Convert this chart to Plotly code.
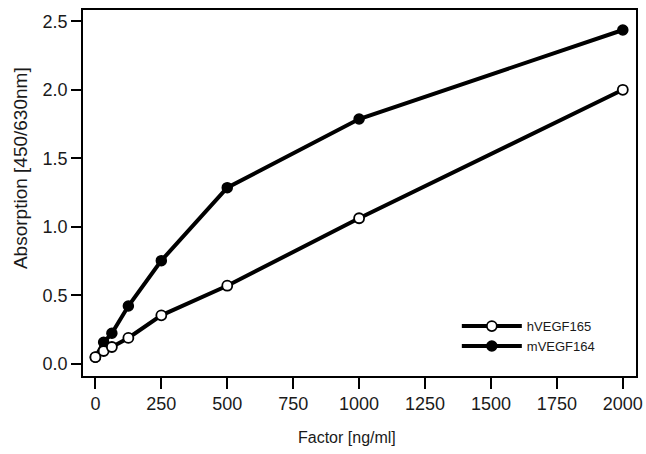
import plotly.graph_objects as go

conc = [0, 31.25, 62.5, 125, 250, 500, 1000, 2000]
hvegf165 = [0.05, 0.095, 0.124, 0.19, 0.355, 0.571, 1.063, 2.00]
mvegf164 = [0.05, 0.158, 0.224, 0.423, 0.754, 1.286, 1.787, 2.436]
x_ticks = [0, 250, 500, 750, 1000, 1250, 1500, 1750, 2000]
y_ticks = [0.0, 0.5, 1.0, 1.5, 2.0, 2.5]

fig = go.Figure()
fig.add_trace(go.Scatter(
    x=conc, y=mvegf164, mode="lines+markers", name="mVEGF164", legendrank=2,
    line=dict(color="black", width=4),
    marker=dict(symbol="circle", size=10, color="black", line=dict(color="black", width=1.5)),
))
fig.add_trace(go.Scatter(
    x=conc, y=hvegf165, mode="lines+markers", name="hVEGF165", legendrank=1,
    line=dict(color="black", width=4),
    marker=dict(symbol="circle", size=10, color="white", line=dict(color="black", width=1.8)),
))

font_family = "Liberation Sans, Arial, sans-serif"
fig.update_layout(
    width=646, height=454,
    margin=dict(l=83, r=10, t=10, b=78),
    paper_bgcolor="white", plot_bgcolor="white",
    font=dict(family=font_family, color="#1a1a1a", size=18),
    showlegend=True,
    legend=dict(
        x=0.676, y=0.109, xanchor="left", yanchor="middle",
        traceorder="normal",
        font=dict(size=13, color="#1a1a1a"),
        bgcolor="rgba(0,0,0,0)", itemwidth=60,
        tracegroupgap=0,
    ),
    xaxis=dict(
        range=[-47, 2050], tickvals=x_ticks, ticktext=[str(v) for v in x_ticks],
        showline=True, linecolor="black", linewidth=1.5, mirror=True,
        ticks="outside", ticklen=11, tickwidth=1.5, tickcolor="black",
        showgrid=False, zeroline=False, automargin=False,
        tickfont=dict(size=18),
    ),
    yaxis=dict(
        range=[-0.0875, 2.582], tickvals=y_ticks, ticktext=[f"{v:.1f}" for v in y_ticks],
        showline=True, linecolor="black", linewidth=1.5, mirror=True,
        ticks="outside", ticklen=10, tickwidth=1.5, tickcolor="black",
        showgrid=False, zeroline=False, automargin=False,
        tickfont=dict(size=18),
    ),
    annotations=[
        dict(text="Factor [ng/ml]", xref="paper", yref="paper", x=0.477, y=-0.169,
             xanchor="center", yanchor="middle", showarrow=False, font=dict(size=16)),
        dict(text="Absorption [450/630nm]", xref="paper", yref="paper", x=-0.114, y=0.568,
             xanchor="center", yanchor="middle", textangle=-90, showarrow=False,
             font=dict(size=19)),
    ],
)

fig.write_html(
    "out.html",
    config={"displayModeBar": False},
    post_script="document.body.style.margin='0';document.body.style.padding='0';",
)
